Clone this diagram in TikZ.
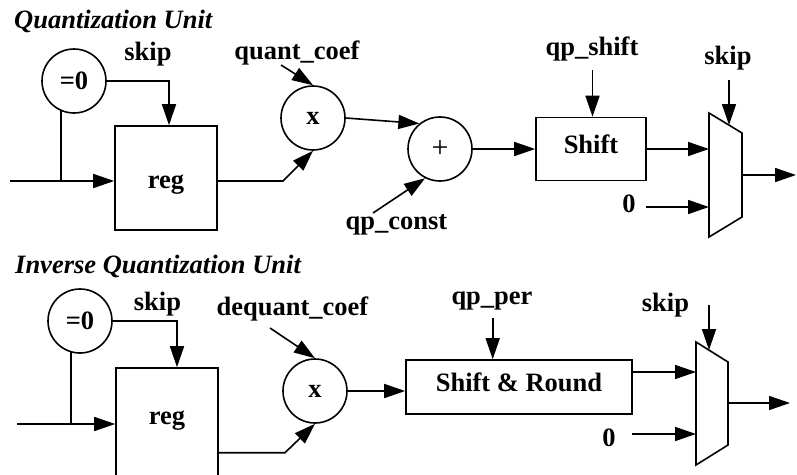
\documentclass[tikz,border=0pt]{standalone}
\usepackage{fontspec}
\setmainfont{Liberation Serif}
\usetikzlibrary{arrows.meta}

\tikzset{
  wire/.style={line width=1.6pt, line join=miter},
  arr/.style={wire, -{Triangle[length=21pt,width=14pt]}},
  lbl/.style={font=\fontsize{26.5}{30}\selectfont\bfseries, inner sep=0pt, anchor=base},
  ttl/.style={font=\fontsize{26.5}{30}\selectfont\bfseries\itshape, inner sep=0pt, anchor=base west},
  opcirc/.style={circle, draw, line width=1.6pt, minimum size=64pt, inner sep=0pt,
                 font=\fontsize{26.5}{30}\selectfont\bfseries},
  blk/.style={rectangle, draw, line width=1.6pt, inner sep=0pt},
  muxshape/.style={draw, line width=1.6pt, line join=miter, fill=white}
}

\begin{document}
\begin{tikzpicture}[x=1pt, y=-1pt]
\useasboundingbox (0,0) rectangle (797,474);
\clip (0,0) rectangle (797,474);

% ---------------- Quantization unit ----------------
\node[ttl] (title1) at (14,28.5) {Quantization Unit};

\node[opcirc] (z1) at (74,81) {=0};
\node[blk, minimum width=102pt, minimum height=104pt] (reg1) at (166,178) {};
\node[lbl] (reg1t) at (166,188) {reg};
\node[opcirc] (x1) at (313,118) {x};
\node[opcirc, font=\fontsize{30}{32}\selectfont] (plus) at (440,149) {+};
\node[blk, minimum width=110pt, minimum height=63pt] (shift) at (591,149) {};
\node[lbl] (shiftt) at (591,153.3) {Shift};

\node[lbl] (skip1) at (148,60) {skip};
\node[lbl] (qcoef) at (297,59.3) {quant\_coef};
\node[lbl] (qconst) at (396.5,229) {qp\_const};
\node[lbl] (qshift) at (592,55) {qp\_shift};
\node[lbl] (skipm1) at (728,64) {skip};
\node[lbl] (zero1) at (629,212) {0};

% multiplexer
\coordinate (m1tl) at (709,113);
\coordinate (m1tr) at (742,133);
\coordinate (m1br) at (742,217);
\coordinate (m1bl) at (709,237);
\draw[muxshape] (m1tl) -- (m1tr) -- (m1br) -- (m1bl) -- cycle;
\coordinate (m1a) at (709,149);
\coordinate (m1b) at (709,207);
\coordinate (m1o) at (742,175);
\coordinate (m1s) at (729,125);

\coordinate (in1) at (10,181);
\coordinate (j1) at (61,181);
\coordinate (k1) at (283,181);
\coordinate (qc1) at (281,65);
\coordinate (qk1) at (373,213);
\coordinate (qs1) at (592.5,70);
\coordinate (sk1) at (729,80);
\coordinate (zl1) at (646,207);
\coordinate (out1) at (796,175);

\draw[arr] (in1) -- (in1 -| reg1.west);
\draw[wire] (z1.246 -| j1) -- (j1);
\draw[arr] (z1.east) -| ([xshift=3pt]reg1.north);
\draw[arr] (reg1.east |- k1) -- (k1) -- (x1.south);
\draw[arr] (qc1) -- (x1.north);
\draw[arr] (x1.east) -- (plus.129);
\draw[arr] (qk1) -- (plus.243);
\draw[arr] (plus.east) -- (shift.west);
\draw[arr] (qs1) -- (qs1 |- shift.north);
\draw[arr] (shift.east |- m1a) -- (m1a);
\draw[arr] (zl1) -- (m1b);
\draw[arr] (sk1) -- (m1s);
\draw[arr] (m1o) -- (out1);

% ---------------- Inverse quantization unit ----------------
\node[ttl] (title2) at (15,273) {Inverse Quantization Unit};

\node[opcirc] (z2) at (80,321) {=0};
\node[blk, minimum width=102pt, minimum height=112pt] (reg2) at (167,424) {};
\node[lbl] (reg2t) at (167,424) {reg};
\node[opcirc] (x2) at (315,391) {x};
\node[blk, minimum width=226pt, minimum height=54pt] (sr) at (519,387) {};
\node[lbl] (srt) at (519,391.7) {Shift \& Round};

\node[lbl] (skip2) at (157.5,310) {skip};
\node[lbl] (dqcoef) at (292.5,315) {dequant\_coef};
\node[lbl] (qpper) at (492,304) {qp\_per};
\node[lbl] (skipm2) at (665.5,311.7) {skip};
\node[lbl] (zero2) at (609,446.7) {0};

% multiplexer
\coordinate (m2tl) at (696,342);
\coordinate (m2tr) at (728,362);
\coordinate (m2br) at (728,445);
\coordinate (m2bl) at (696,465);
\draw[muxshape] (m2tl) -- (m2tr) -- (m2br) -- (m2bl) -- cycle;
\coordinate (m2a) at (696,372);
\coordinate (m2b) at (696,434);
\coordinate (m2o) at (728,403);
\coordinate (m2s) at (709,350);

\coordinate (in2) at (17,424);
\coordinate (j2) at (71,424);
\coordinate (k2) at (285,452.7);
\coordinate (dq2) at (270,328);
\coordinate (qp2) at (492.7,318);
\coordinate (sk2) at (709,305);
\coordinate (zl2) at (631.7,434);
\coordinate (out2) at (790,403);

\draw[arr] (in2) -- (in2 -| reg2.west);
\draw[wire] (z2.253 -| j2) -- (j2);
\draw[arr] (z2.east) -| ([xshift=10pt]reg2.north);
\draw[arr] (reg2.east |- k2) -- (k2) -- (x2.south);
\draw[arr] (dq2) -- (x2.north);
\draw[arr] (x2.east) -- (sr.west |- x2.east);
\draw[arr] (qp2) -- (qp2 |- sr.north);
\draw[arr] (sr.east |- m2a) -- (m2a);
\draw[arr] (zl2) -- (m2b);
\draw[arr] (sk2) -- (m2s);
\draw[arr] (m2o) -- (out2);
\end{tikzpicture}
\end{document}
